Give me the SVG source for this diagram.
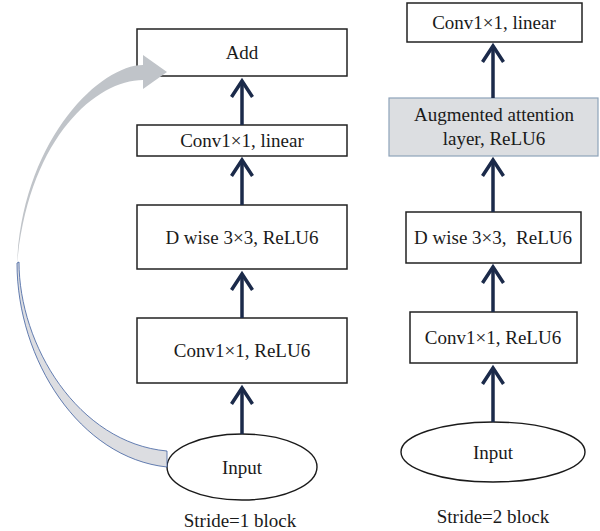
<svg xmlns="http://www.w3.org/2000/svg" width="600" height="531" viewBox="0 0 600 531">
<style>
.box{fill:#fff;stroke:#222;stroke-width:1.5}
.att{fill:#dcdee1;stroke:#8ea3ba;stroke-width:1.2}
.ell{fill:#fff;stroke:#1a1a1a;stroke-width:1.4}
.t{font-family:'Liberation Serif','DejaVu Serif',serif;font-size:19px;fill:#1a1a1a;text-anchor:middle}
.conn line{stroke:#1b2a4a;stroke-width:3.5;marker-end:url(#chev)}
</style>
<defs>
<marker id="chev" markerUnits="userSpaceOnUse" viewBox="-22 -14 26 28" refX="0" refY="0" markerWidth="26" markerHeight="28" orient="auto" overflow="visible">
<path d="M-16,-10.5 L0,0 L-16,10.5" fill="none" stroke="#1b2a4a" stroke-width="3.5"/>
</marker>
</defs>
<rect width="600" height="531" fill="#fff"/>

<g id="n_add"><rect class="box" x="137" y="29" width="210" height="47"/><text class="t" x="242" y="59" font-family="Liberation Serif, serif">Add</text></g>
<g id="n_lin1"><rect class="box" x="137" y="125" width="210" height="31"/><text class="t" x="242" y="147">Conv1×1, linear</text></g>
<g id="n_dw1"><rect class="box" x="137" y="205" width="210" height="64"/><text class="t" x="242" y="244">D wise 3×3, ReLU6</text></g>
<g id="n_c1"><rect class="box" x="137" y="318" width="210" height="65"/><text class="t" x="242" y="357">Conv1×1, ReLU6</text></g>
<g id="n_in1"><ellipse class="ell" cx="242" cy="467" rx="75" ry="33"/><text class="t" x="242" y="474">Input</text></g>
<g id="lbl1"><text class="t" x="240" y="527">Stride=1 block</text></g>

<g id="skip">
<path d="M143,65 C100,65 22,140 17,265 C28,140 95,80 143,80 L143,89 L167,72 L143,55 Z" fill="#c0c4c9"/>
<path d="M17,263 C17,360 80,458 167,467 L167,451 C78,443 19,345 19,262 Z" fill="#dcdde1" stroke="#3f5f9f" stroke-width="0.8"/>
</g>

<g id="n_lin2"><rect class="box" x="407" y="3" width="175" height="39"/><text class="t" x="494" y="29">Conv1×1, linear</text></g>
<g id="n_att"><rect class="att" x="389" y="98" width="209" height="58"/><text class="t" x="494" y="121">Augmented attention</text><text class="t" x="494" y="145">layer, ReLU6</text></g>
<g id="n_dw2"><rect class="box" x="406" y="212" width="175" height="51"/><text class="t" x="493" y="244" xml:space="preserve">D wise 3×3,  ReLU6</text></g>
<g id="n_c2"><rect class="box" x="410" y="312" width="167" height="51"/><text class="t" x="493" y="344">Conv1×1, ReLU6</text></g>
<g id="n_in2"><ellipse class="ell" cx="493" cy="452" rx="92" ry="30"/><text class="t" x="493" y="459">Input</text></g>
<g id="lbl2"><text class="t" x="493" y="523">Stride=2 block</text></g>

<g id="connectors" class="conn">
<line x1="242" y1="125" x2="242" y2="81"/>
<line x1="242" y1="205" x2="242" y2="160"/>
<line x1="242" y1="318" x2="242" y2="274"/>
<line x1="242" y1="434" x2="242" y2="388"/>
<line x1="493" y1="98" x2="493" y2="46"/>
<line x1="493" y1="212" x2="493" y2="160"/>
<line x1="493" y1="312" x2="493" y2="267"/>
<line x1="493" y1="422" x2="493" y2="368"/>
</g>
</svg>
